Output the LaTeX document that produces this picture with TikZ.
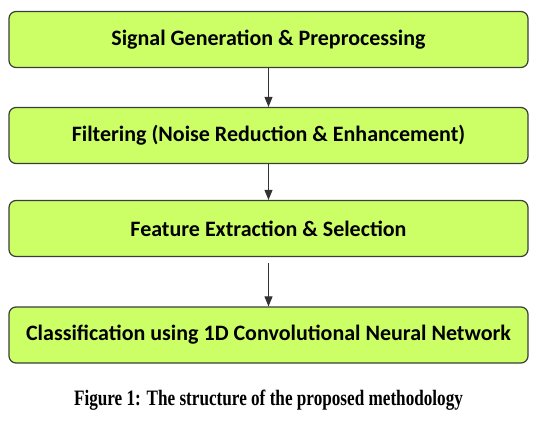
\documentclass[tikz,border=0pt]{standalone}
\usepackage{fontspec}
\setmainfont{Liberation Serif}
\newfontfamily\boxfont{Carlito}
\usetikzlibrary{arrows.meta}

\begin{document}
\begin{tikzpicture}[x=1pt, y=-1pt, line join=round]

    % Define custom colors to match the image
    \definecolor{stepgreen}{RGB}{204, 255, 102}
    \definecolor{stepborder}{RGB}{60, 60, 60}

    \tikzset{
        stagebox/.style={draw=stepborder, fill=stepgreen, line width=1.2pt,
            rounded corners=7pt, minimum width=519pt, minimum height=56pt,
            font=\boxfont\bfseries\fontsize{22}{24}\selectfont},
        flow/.style={draw=black!80, line width=1pt, -{Triangle[length=10pt, width=8pt]}}
    }

    \useasboundingbox (0,0) rectangle (536,421);

    % 1. Stages
    \node[stagebox] (signal)   at (268.5, 39.5) {Signal Generation \& Preprocessing};
    \node[stagebox] (filter)   at (268.5, 135.5) {Filtering (Noise Reduction \& Enhancement)};
    \node[stagebox] (feature)  at (268.5, 228.5) {Feature Extraction \& Selection};
    \node[stagebox] (classify) at (268.5, 335) {Classification using 1D Convolutional Neural Network};

    % 2. Arrows between stages
    \draw[flow] (signal) -- (filter);
    \draw[flow] (filter) -- (feature);
    \draw[flow, shorten <=6pt] (feature) -- (classify);

    % 3. Caption
    \node[font=\bfseries\fontsize{22}{24}\selectfont] (caption) at (268.5, 400)
        {\scalebox{0.78}[1]{Figure 1: The structure of the proposed methodology}};

\end{tikzpicture}
\end{document}
